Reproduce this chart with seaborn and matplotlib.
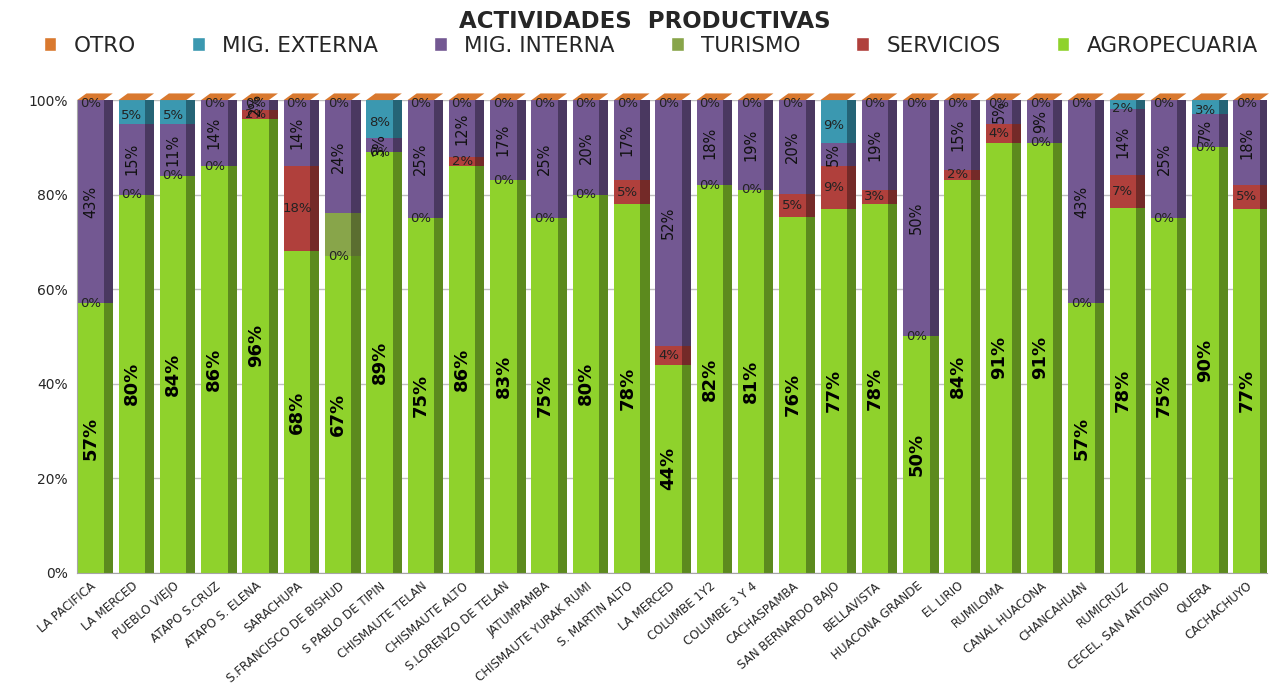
import numpy as np
import pandas as pd
import matplotlib
matplotlib.use("Agg")
import matplotlib.pyplot as plt
from matplotlib.patches import Polygon, Patch
import seaborn as sns

# --- Data (percent per community) ---
comunidades = ["LA PACIFICA", "LA MERCED", "PUEBLO VIEJO", "ATAPO S.CRUZ", "ATAPO S. ELENA",
               "SARACHUPA", "S.FRANCISCO DE BISHUD", "S PABLO DE TIPIN", "CHISMAUTE TELAN",
               "CHISMAUTE ALTO", "S.LORENZO DE TELAN", "JATUMPAMBA", "CHISMAUTE YURAK RUMI",
               "S. MARTIN ALTO", "LA MERCED", "COLUMBE 1Y2", "COLUMBE 3 Y 4", "CACHASPAMBA",
               "SAN BERNARDO BAJO", "BELLAVISTA", "HUACONA GRANDE", "EL LIRIO", "RUMILOMA",
               "CANAL HUACONA", "CHANCAHUAN", "RUMICRUZ", "CECEL, SAN ANTONIO", "QUERA", "CACHACHUYO"]
agropecuaria = [57, 80, 84, 86, 96, 68, 67, 89, 75, 86, 83, 75, 80, 78, 44, 82, 81, 76, 77, 78, 50, 84, 91, 91, 57, 78, 75, 90, 77]
servicios    = [0, 0, 0, 0, 2, 18, 0, 0, 0, 2, 0, 0, 0, 5, 4, 0, 0, 5, 9, 3, 0, 2, 4, 0, 0, 7, 0, 0, 5]
turismo      = [0, 0, 0, 0, 0, 0, 9, 0, 0, 0, 0, 0, 0, 0, 0, 0, 0, 0, 0, 0, 0, 0, 0, 0, 0, 0, 0, 0, 0]
mig_interna  = [43, 15, 11, 14, 2, 14, 24, 3, 25, 12, 17, 25, 20, 17, 52, 18, 19, 20, 5, 19, 50, 15, 5, 9, 43, 14, 25, 7, 18]
mig_externa  = [0, 5, 5, 0, 0, 0, 0, 8, 0, 0, 0, 0, 0, 0, 0, 0, 0, 0, 9, 0, 0, 0, 0, 0, 0, 2, 0, 3, 0]
otro         = [0] * 29

series = ["AGROPECUARIA", "SERVICIOS", "TURISMO", "MIG. INTERNA", "MIG. EXTERNA", "OTRO"]
colores = ["#8fd22c", "#b0403c", "#88a54a", "#735892", "#3b98b0", "#d9792f"]
laterales = ["#5c8a1e", "#742a28", "#5b6e30", "#4a3860", "#256476", "#9a5420"]

vals = np.array([agropecuaria, servicios, turismo, mig_interna, mig_externa, otro], dtype=float)
pct = vals / vals.sum(axis=0) * 100  # 100% stacked
cum = np.cumsum(pct, axis=0)
n = len(comunidades)
pos = np.arange(n)

sns.set_style("white")
plt.rcParams["font.family"] = ["DejaVu Sans"]
fig = plt.figure(figsize=(12.81, 6.90), dpi=100)
ax = fig.add_axes([0.0603, 0.170, 0.929, 0.685])

W = 0.64
D = 0.22   # depth of 3D side
DY = 1.4   # vertical shift of the depth

# side faces (darker), drawn behind
for k in range(len(series) - 1, -1, -1):
    ax.bar(pos + W / 2 + D / 2, cum[k], width=D, bottom=0, color=laterales[k],
           zorder=1, linewidth=0)
# front faces via seaborn (layered cumulative bars)
for k in range(len(series) - 1, -1, -1):
    df = pd.DataFrame({"x": pos, "y": cum[k]})
    sns.barplot(data=df, x="x", y="y", color=colores[k], saturation=1, width=W,
                ax=ax, zorder=2, linewidth=0)
# top faces (orange, OTRO series of depth 0)
for i in range(n):
    x0, x1 = i - W / 2, i + W / 2
    ax.add_patch(Polygon([[x0, 100], [x1, 100], [x1 + D, 100 + DY], [x0 + D, 100 + DY]],
                         closed=True, color=colores[5], zorder=3, clip_on=False, lw=0))

# labels
for i in range(n):
    a = agropecuaria[i]
    ax.text(i, pct[0, i] / 2, f"{a}%", rotation=90, ha="center", va="center",
            fontsize=13, fontweight="bold", color="black", zorder=5)
    s = servicios[i]
    ax.text(i, cum[0, i] + pct[1, i] / 2, f"{s}%", ha="center", va="center",
            fontsize=9.5, color="#222222", zorder=5)
    m = mig_interna[i]
    ax.text(i, cum[2, i] + pct[3, i] / 2, f"{m}%", rotation=90, ha="center", va="center",
            fontsize=10.5, color="#111111", zorder=5)
    e = mig_externa[i]
    ax.text(i, cum[3, i] + pct[4, i] / 2 - 0.8, f"{e}%", ha="center", va="center",
            fontsize=9.5, color="#222222", zorder=5)

ax.set_xlim(-0.32, n - 0.5)
ax.set_ylim(0, 100)
ax.set_yticks([0, 20, 40, 60, 80, 100])
ax.set_yticklabels([f"{t}%" for t in [0, 20, 40, 60, 80, 100]], fontsize=10)
ax.yaxis.grid(True, color="#bfbfbf", linewidth=1, zorder=0)
ax.set_axisbelow(True)
ax.set_xticks(pos)
ax.set_xticklabels(comunidades, rotation=40, ha="right", rotation_mode="anchor", fontsize=8.6)
ax.tick_params(axis="x", length=0, pad=5)
ax.tick_params(axis="y", length=0, pad=7)
ax.set_xlabel("")
ax.set_ylabel("")
for sp in ["top", "right"]:
    ax.spines[sp].set_visible(False)
ax.spines["left"].set_color("#a6a6a6")
ax.spines["bottom"].set_color("#a6a6a6")

fig.suptitle("ACTIVIDADES  PRODUCTIVAS", x=0.503, y=0.985, fontsize=16.5, fontweight="bold")

orden = [5, 4, 3, 2, 1, 0]
handles = [Patch(facecolor=colores[k], label=series[k]) for k in orden]
fig.legend(handles=handles, loc="center", bbox_to_anchor=(0.508, 0.934), ncol=6, frameon=False,
           fontsize=15.5, handlelength=0.6, handleheight=0.6, columnspacing=2.6, handletextpad=0.8)

fig.savefig("out.png", dpi=100)
